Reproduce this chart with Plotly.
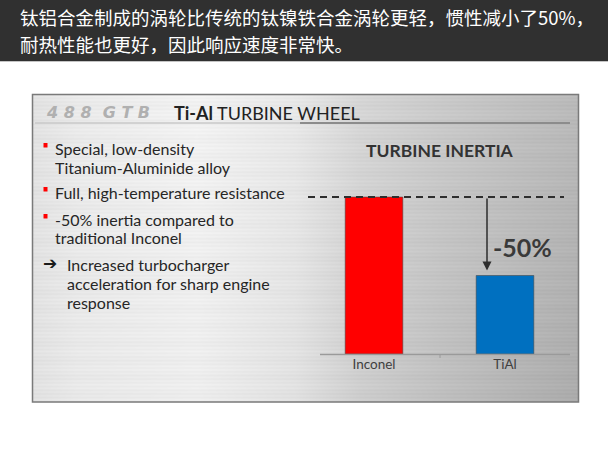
import base64, struct, zlib
import numpy as np
import plotly.graph_objects as go

# ---------------- data ----------------
categories = ["Inconel", "TiAl"]
inertia = [100, 50]
bar_colors = ["#ff0000", "#0070c0"]
reduction_label = "-50%"
chart_title = "TURBINE INERTIA"
banner_lines = ["钛铝合金制成的涡轮比传统的钛镍铁合金涡轮更轻，惯性减小了50%，",
                "耐热性能也更好，因此响应速度非常快。"]
bullets = [("Special, low-density", True), ("Titanium-Aluminide alloy", False),
           ("Full, high-temperature resistance", True),
           ("-50% inertia compared to", True), ("traditional Inconel", False),
           ("Increased turbocharger", "arrow"), ("acceleration for sharp engine", "sub"),
           ("response", "sub")]
bullet_y = [148, 167, 192, 219, 238, 264, 283, 302]

W, H = 608, 456
def X(px): return px / W
def Y(py): return 1 - py / H

# ---------------- brushed-metal background image ----------------
iw, ih = 546, 307
u = np.linspace(0, 1, iw)
v = np.linspace(0, 1, ih)[:, None]
prof = np.interp(u, [0, 0.08, 0.3, 0.48, 0.6, 0.75, 0.9, 1.0],
                 [226, 234, 242, 232, 214, 202, 192, 186])
rows = np.arange(ih)[:, None]
streak = 2.5 * np.sin(rows * 1.7) + 1.5 * np.sin(rows * 0.37 + 1.0)
g = prof[None, :] - 14 * v * u[None, :] + streak
g = np.clip(g, 0, 255).astype(np.uint8)
rgb = np.stack([g, g, g], axis=-1)
raw = b"".join(b"\x00" + rgb[r].tobytes() for r in range(ih))
def chunk(t, d):
    c = struct.pack(">I", len(d)) + t + d
    return c + struct.pack(">I", zlib.crc32(t + d) & 0xffffffff)
png = (b"\x89PNG\r\n\x1a\n" + chunk(b"IHDR", struct.pack(">IIBBBBB", iw, ih, 8, 2, 0, 0, 0))
       + chunk(b"IDAT", zlib.compress(raw, 9)) + chunk(b"IEND", b""))
bg_uri = "data:image/png;base64," + base64.b64encode(png).decode()

# ---------------- figure ----------------
y_top = 100 * (354 - 180) / (354 - 197)
fig = go.Figure()
fig.add_trace(go.Bar(
    x=categories, y=inertia, width=0.44,
    marker=dict(color=bar_colors, line=dict(color="rgba(70,70,70,0.55)", width=1)),
    hoverinfo="skip"))

fig.update_layout(
    width=W, height=H, margin=dict(l=0, r=0, t=0, b=0),
    paper_bgcolor="white", plot_bgcolor="rgba(0,0,0,0)", showlegend=False,
    xaxis=dict(domain=[X(308.5), X(570.5)], range=[-0.5, 1.5], type="category",
               showgrid=False, zeroline=False, showline=False, ticks="",
               tickfont=dict(family="Lato", size=13.5, color="#404040")),
    yaxis=dict(domain=[Y(354), Y(180)], range=[0, y_top], visible=False),
    images=[dict(source=bg_uri, xref="paper", yref="paper", x=X(33), y=Y(95),
                 sizex=X(579) - X(33), sizey=Y(95) - Y(402), sizing="stretch",
                 layer="below", xanchor="left", yanchor="top")],
)

shapes = [
    dict(type="rect", xref="paper", yref="paper", x0=0, x1=1, y0=Y(61), y1=1,
         fillcolor="#303030", line=dict(width=0), layer="below"),
    dict(type="line", xref="paper", yref="paper", x0=0, x1=1, y0=Y(61.5), y1=Y(61.5),
         line=dict(color="#c4c4c4", width=1)),
    dict(type="rect", xref="paper", yref="paper", x0=X(32.5), x1=X(578.5), y0=Y(402), y1=Y(94.5),
         line=dict(color="#7a7a7a", width=1.5)),
    dict(type="line", xref="paper", yref="paper", x0=X(35), x1=X(300), y0=Y(123), y1=Y(123),
         line=dict(color="#c8c8c8", width=1.5)),
    dict(type="line", xref="paper", yref="paper", x0=X(300), x1=X(570), y0=Y(123), y1=Y(123),
         line=dict(color="#8c8c8c", width=1.8)),
    # baseline + tick
    dict(type="line", xref="paper", yref="paper", x0=X(320), x1=X(570), y0=Y(354.5), y1=Y(354.5),
         line=dict(color="#9a9a9a", width=1.5)),
    dict(type="line", xref="paper", yref="paper", x0=X(440), x1=X(440), y0=Y(354.5), y1=Y(358),
         line=dict(color="#9a9a9a", width=1)),
    # dashed reference line at Inconel level
    dict(type="line", xref="paper", yref="y", x0=X(308), x1=X(564), y0=inertia[0], y1=inertia[0],
         line=dict(color="#2e2e2e", width=2, dash="7px,5px")),
]
for (txt, kind), yy in zip(bullets, bullet_y):
    if kind is True:
        shapes.append(dict(type="rect", xref="paper", yref="paper", x0=X(43.5), x1=X(47.5),
                           y0=Y(yy - 0.5), y1=Y(yy - 5), fillcolor="#ff0000", line=dict(width=0)))
fig.update_layout(shapes=shapes)

ann = []
for i, line in enumerate(banner_lines):
    ann.append(dict(text=line, xref="paper", yref="paper", x=X(18), y=Y([17, 44][i]),
                    xanchor="left", yanchor="middle", showarrow=False,
                    font=dict(family="Noto Sans CJK SC", size=18.5, color="white")))
ann.append(dict(text="4 8 8  G T B", xref="paper", yref="paper", x=X(44), y=Y(113),
                xanchor="left", yanchor="middle", showarrow=False,
                font=dict(family="DejaVu Sans", size=16, color="#b0b0b0", style="italic", weight="bold")))
ann.append(dict(text="<b>Ti-Al</b> TURBINE WHEEL", xref="paper", yref="paper", x=X(172), y=Y(113),
                xanchor="left", yanchor="middle", showarrow=False,
                font=dict(family="Lato", size=18, color="#222222")))
for (txt, kind), yy in zip(bullets, bullet_y):
    xx = 65 if kind in ("arrow", "sub") else 53
    ann.append(dict(text=txt, xref="paper", yref="paper", x=X(xx), y=Y(yy),
                    xanchor="left", yanchor="middle", showarrow=False,
                    font=dict(family="Lato", size=16, color="#262626")))
    if kind == "arrow":
        ann.append(dict(text="<b>➔</b>", xref="paper", yref="paper", x=X(41), y=Y(yy - 1),
                        xanchor="left", yanchor="middle", showarrow=False,
                        font=dict(family="DejaVu Sans", size=17, color="#1a1a1a")))
ann.append(dict(text="<b>" + chart_title + "</b>", xref="paper", yref="paper", x=X(440), y=Y(150),
                xanchor="center", yanchor="middle", showarrow=False,
                font=dict(family="Lato", size=17.5, color="#333333")))
ann.append(dict(text="<b>" + reduction_label + "</b>", xref="paper", yref="paper", x=X(522), y=Y(247),
                xanchor="center", yanchor="middle", showarrow=False,
                font=dict(family="Lato", size=25, color="#3a3a3a")))
ann.append(dict(text="", xref="paper", yref="y", x=X(487), y=inertia[1],
                axref="pixel", ayref="y", ax=0, ay=inertia[0], showarrow=True,
                arrowhead=2, arrowsize=1.2, arrowwidth=1.5, arrowcolor="#2e2e2e", standoff=5))
fig.update_layout(annotations=ann)

fig.write_html("out.html")
